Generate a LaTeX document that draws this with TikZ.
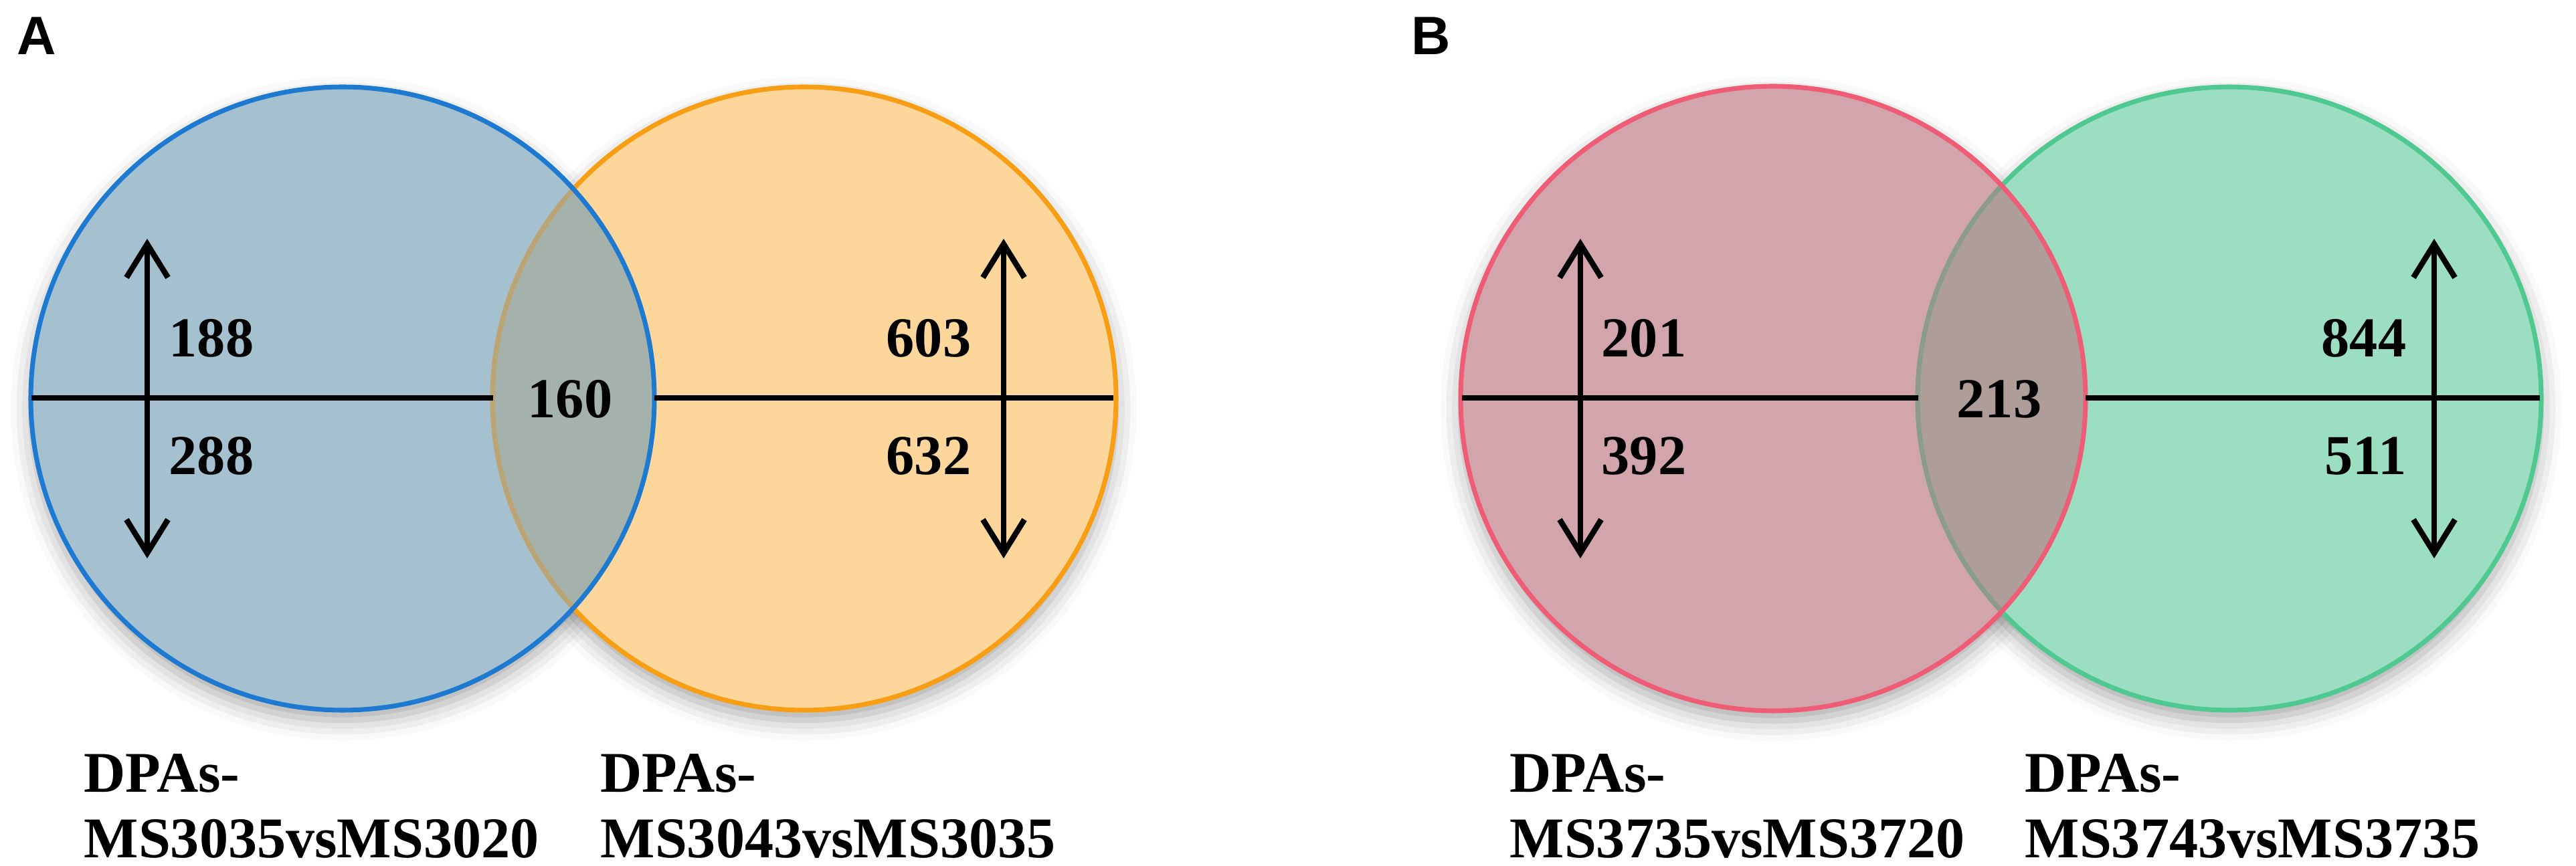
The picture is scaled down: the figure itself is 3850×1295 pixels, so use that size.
\documentclass[tikz,border=0pt]{standalone}
\usepackage{fontspec}
\setmainfont{Liberation Serif}
\newfontfamily\panelfont{Liberation Sans}
\usetikzlibrary{arrows.meta,shadows.blur}

\definecolor{blueedge}{RGB}{30,122,208}
\definecolor{bluefill}{RGB}{165,193,208}
\definecolor{orangeedge}{RGB}{247,158,20}
\definecolor{orangefill}{RGB}{253,214,155}
\definecolor{lensA}{RGB}{164,178,171}
\definecolor{lensAedge}{RGB}{185,165,120}
\definecolor{pinkedge}{RGB}{238,92,118}
\definecolor{pinkfill}{RGB}{210,165,173}
\definecolor{greenedge}{RGB}{80,200,145}
\definecolor{greenfill}{RGB}{156,222,194}
\definecolor{lensB}{RGB}{174,157,153}
\definecolor{lensBedge}{RGB}{140,155,140}

\begin{document}
\begin{tikzpicture}[x=0.01cm, y=0.01cm]
\tikzstyle{every node}+=[inner sep=0pt]
\tikzstyle{num}=[font=\fontsize{24}{28}\selectfont\bfseries]
\tikzstyle{lbl}=[font=\fontsize{24.5}{28}\selectfont\bfseries, anchor=base west]
\tikzstyle{panel}=[font=\panelfont\fontsize{23}{26}\selectfont\bfseries]
\tikzstyle{rim}=[line width=2pt]
\tikzstyle{axis}=[black, line width=2.4pt]
\tikzstyle{updown}=[axis, {Straight Barb[length=0.5cm,width=0.62cm]}-{Straight Barb[length=0.5cm,width=0.62cm]}]
\tikzstyle{soft}=[blur shadow={shadow xshift=0cm, shadow yshift=-0.15cm, shadow blur radius=0.3cm, shadow opacity=35}]
\useasboundingbox (0,0) rectangle (3850,-1295);

\node [panel] (pA) at (55,-54) {A};
\node [panel] (pB) at (2139,-54) {B};

\path [soft, fill=white] (512,-596) circle (466);
\path [soft, fill=white] (1202,-596) circle (466);
\fill [bluefill] (512,-596) circle (466);
\fill [orangefill] (1202,-596) circle (466);
\begin{scope}
\clip (512,-596) circle (466);
\fill [lensA] (1202,-596) circle (466);
\end{scope}
\draw [orangeedge, rim] (1202,-596) circle (466);
\begin{scope}
\clip (512,-596) circle (466);
\draw [lensAedge, rim] (1202,-596) circle (466);
\end{scope}
\draw [blueedge, rim] (512,-596) circle (466);

\coordinate (aL) at (47,-595);
\coordinate (aLm) at (737,-595);
\coordinate (aRm) at (978,-595);
\coordinate (aR) at (1664,-595);
\draw [axis] (aL) -- (aLm);
\draw [axis] (aRm) -- (aR);
\coordinate (a1t) at (220,-357);
\coordinate (a1b) at (220,-835);
\coordinate (a2t) at (1500,-357);
\coordinate (a2b) at (1500,-835);
\draw [updown] (a1b) -- (a1t);
\draw [updown] (a2b) -- (a2t);

\node [num, anchor=west] (a188) at (252,-506) {188};
\node [num, anchor=west] (a288) at (252,-682) {288};
\node [num] (a160) at (852,-597) {160};
\node [num, anchor=east] (a603) at (1452,-506) {603};
\node [num, anchor=east] (a632) at (1452,-682) {632};

\node [lbl] (la1) at (125,-1185) {DPAs-};
\node [lbl] (la2) at (125,-1283) {MS3035vsMS3020};
\node [lbl] (la3) at (897,-1185) {DPAs-};
\node [lbl] (la4) at (897,-1283) {MS3043vsMS3035};

\path [soft, fill=white] (2650,-596) circle (467);
\path [soft, fill=white] (3332,-596) circle (466);
\fill [pinkfill] (2650,-596) circle (467);
\fill [greenfill] (3332,-596) circle (466);
\begin{scope}
\clip (2650,-596) circle (467);
\fill [lensB] (3332,-596) circle (466);
\end{scope}
\draw [greenedge, rim] (3332,-596) circle (466);
\begin{scope}
\clip (2650,-596) circle (467);
\draw [lensBedge, rim] (3332,-596) circle (466);
\end{scope}
\draw [pinkedge, rim] (2650,-596) circle (467);

\coordinate (bL) at (2185,-595);
\coordinate (bLm) at (2867,-595);
\coordinate (bRm) at (3117,-595);
\coordinate (bR) at (3796,-595);
\draw [axis] (bL) -- (bLm);
\draw [axis] (bRm) -- (bR);
\coordinate (b1t) at (2362,-357);
\coordinate (b1b) at (2362,-835);
\coordinate (b2t) at (3638,-357);
\coordinate (b2b) at (3638,-835);
\draw [updown] (b1b) -- (b1t);
\draw [updown] (b2b) -- (b2t);

\node [num, anchor=west] (b201) at (2393,-506) {201};
\node [num, anchor=west] (b392) at (2393,-682) {392};
\node [num] (b213) at (2988,-597) {213};
\node [num, anchor=east] (b844) at (3597,-506) {844};
\node [num, anchor=east] (b511) at (3597,-682) {511};

\node [lbl] (lb1) at (2256,-1185) {DPAs-};
\node [lbl] (lb2) at (2256,-1283) {MS3735vsMS3720};
\node [lbl] (lb3) at (3026,-1185) {DPAs-};
\node [lbl] (lb4) at (3026,-1283) {MS3743vsMS3735};
\end{tikzpicture}
\end{document}
